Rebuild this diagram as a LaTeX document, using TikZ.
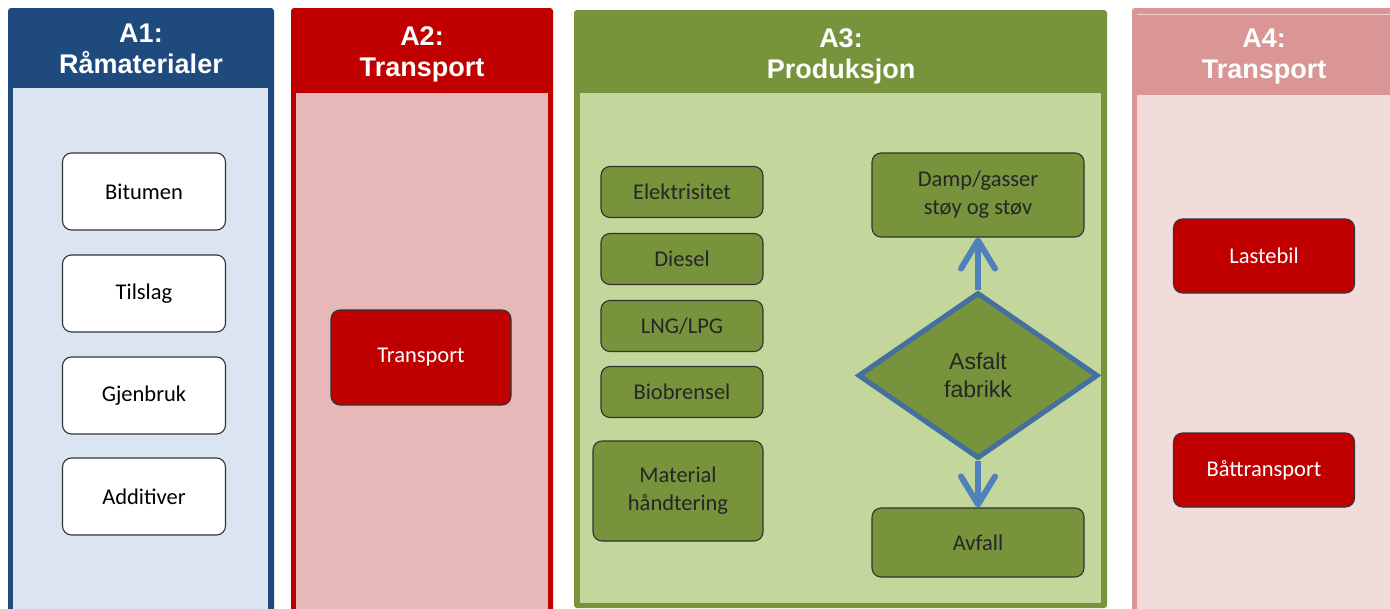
\documentclass[tikz,border=0pt]{standalone}
\usepackage{fontspec}
\setmainfont{Carlito}
\newfontfamily\hdfont{Liberation Sans}
\usetikzlibrary{positioning, shapes.geometric, arrows.meta}
\definecolor{bluedk}{HTML}{1F4A7E}
\definecolor{bluelt}{HTML}{DBE5F1}
\definecolor{reddk}{HTML}{C00000}
\definecolor{redlt}{HTML}{E6B9B8}
\definecolor{greendk}{HTML}{77933C}
\definecolor{greenlt}{HTML}{C3D69B}
\definecolor{pinkdk}{HTML}{D99694}
\definecolor{pinklt}{HTML}{F2DCDB}
\definecolor{diaedge}{HTML}{44709F}
\definecolor{flowblue}{HTML}{4F81BD}

\begin{document}
\begin{tikzpicture}[x=1pt,y=-1pt,on grid,
  header/.style={text=white, align=center, font=\hdfont\bfseries\fontsize{27}{31}\selectfont},
  box/.style={draw=black!80, line width=1.1pt, rounded corners=9pt, align=center,
    font=\fontsize{22.5}{28}\selectfont},
  raw/.style={box, fill=white, minimum width=163pt, minimum height=77pt},
  carrier/.style={box, fill=reddk, text=white, minimum width=181pt, minimum height=74pt},
  energy/.style={box, fill=greendk, text=black!85, minimum width=162pt, minimum height=51pt},
  output/.style={box, fill=greendk, text=black!85, minimum width=212pt},
  plant/.style={diamond, draw=diaedge, line width=5pt, fill=greendk, align=center,
    minimum width=240pt, minimum height=166pt, text=black!85,
    font=\hdfont\fontsize{23}{28}\selectfont},
  flow/.style={draw=flowblue, line width=6pt,
    -{Straight Barb[length=28pt,width=34pt,line width=6pt,round]}}]
  \clip (0,0) rectangle (1390,608);
  \fill[white] (0,0) rectangle (1390,608);
  % column frames
  \fill[bluedk, rounded corners=3pt] (8,8) rectangle (274,640);
  \fill[bluelt] (13,88) rectangle (268,640);
  \fill[reddk, rounded corners=3pt] (291,8) rectangle (553,640);
  \fill[redlt] (296,93) rectangle (548,640);
  \fill[greendk, rounded corners=3pt] (574,10) rectangle (1107,608);
  \fill[greenlt] (580,93) rectangle (1101,603);
  \fill[pinkdk, rounded corners=3pt] (1132,8) rectangle (1400,640);
  \fill[pinklt] (1137,95) rectangle (1400,640);
  \draw[white!60!pinkdk, line width=1pt] (1137,14) -- (1400,14);
  % headers
  \node[header] (h1) at (141,49) {A1:\\Råmaterialer};
  \node[header] (h2) at (422,54) {A2:\\Transport};
  \node[header] (h3) at (841,56) {A3:\\Produksjon};
  \node[header] (h4) at (1264,57) {A4:\\Transport};
  % A1
  \node[raw] (bit) at (144,191.5) {Bitumen};
  \node[raw] (til) [below=102pt of bit] {Tilslag};
  \node[raw] (gje) [below=102pt of til] {Gjenbruk};
  \node[raw] (add) [below=101pt of gje] {Additiver};
  % A2
  \node[carrier, minimum width=180pt, minimum height=95pt] (tra) at (421,357.5) {Transport};
  % A3
  \node[energy] (el) at (682,192) {Elektrisitet};
  \node[energy] (die) [below=67pt of el] {Diesel};
  \node[energy] (lng) [below=67pt of die] {LNG/LPG};
  \node[energy] (bio) [below=66pt of lng] {Biobrensel};
  \node[energy, minimum width=170pt, minimum height=100pt] (mat) at (678,491) {Material\\håndtering};
  \node[output, minimum height=84pt] (damp) at (978,195) {Damp/gasser\\støy og støv};
  \node[plant] (fab) at (978,375.5) {Asfalt\\fabrikk};
  \node[output, minimum height=69pt] (avf) at (978,542.5) {Avfall};
  \draw[flow] (fab.north) -- (damp.south);
  \draw[flow] (fab.south) -- (avf.north);
  % A4
  \node[carrier] (last) at (1264,256) {Lastebil};
  \node[carrier] (baat) [below=214pt of last] {Båttransport};
\end{tikzpicture}
\end{document}
